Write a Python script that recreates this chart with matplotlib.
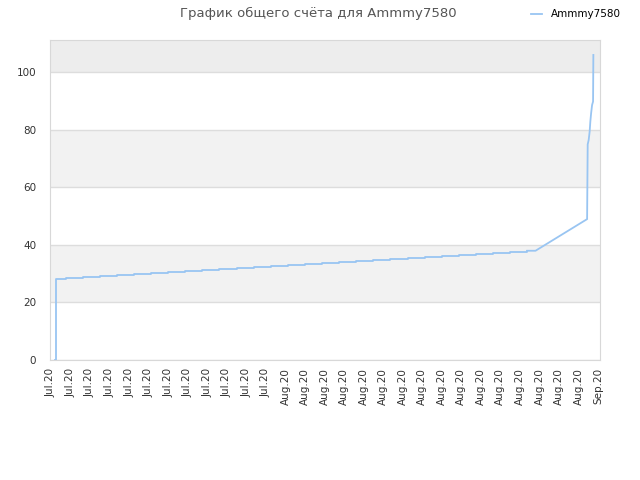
import matplotlib
matplotlib.use("Agg")
import matplotlib.pyplot as plt
import matplotlib.dates as mdates
import pandas as pd

# account balance (days counted from 2020-07-08)
start = pd.Timestamp("2020-07-08")
name = "Ammmy7580"

step_days = [0.42, 0.50, 1.50, 3.25, 5.00, 6.75, 8.50, 10.25, 12.00, 13.75, 15.50,
             17.25, 19.00, 20.75, 22.50, 24.25, 26.00, 27.75, 29.50, 31.25,
             33.00, 34.75, 36.50, 38.25, 40.00, 41.75, 43.50, 45.25, 47.00, 48.75]
step_vals = [0.0, 28.1, 28.5, 28.8, 29.2, 29.5, 29.9, 30.2, 30.6, 31.0, 31.3, 31.7,
             32.0, 32.4, 32.7, 33.1, 33.4, 33.8, 34.1, 34.5, 34.9, 35.2, 35.6,
             35.9, 36.3, 36.6, 37.0, 37.3, 37.7, 38.0]

tail_days = [49.60, 54.88, 54.94, 55.04, 55.14, 55.21, 55.29, 55.39, 55.49, 55.52]
tail_vals = [38.0, 49.0, 75.0, 76.5, 79.4, 82.9, 85.8, 88.7, 89.9, 106.1]

tick_dates = pd.date_range("2020-07-08", periods=29, freq="2D")

line_col = "#99c5f2"

fig = plt.figure(figsize=(6.4, 4.8), dpi=100)
ax = fig.add_axes([50 / 640, 120 / 480, 550 / 640, 320 / 480])

t_step = [start + pd.Timedelta(days=d) for d in step_days]
t_tail = [t_step[-1]] + [start + pd.Timedelta(days=d) for d in tail_days]
v_tail = [step_vals[-1]] + tail_vals

ax.plot(t_step, step_vals, drawstyle="steps-post", color=line_col, lw=1.3, label=name)
ax.plot(t_tail, v_tail, color=line_col, lw=1.3)

ymax = 111.3
ax.set_ylim(0, ymax)
ax.set_xlim(start - pd.Timedelta(days=0.1), start + pd.Timedelta(days=56.2))

# alternating bands
bands = [(20, 40, "#f2f2f2"), (60, 80, "#f2f2f2"), (100, ymax, "#ededed")]
for lo, hi, c in bands:
    ax.axhspan(lo, hi, color=c, zorder=0, lw=0)
ax.set_yticks([0, 20, 40, 60, 80, 100])
ax.grid(axis="y", color="#dddddd", lw=1)
ax.set_axisbelow(True)

ax.set_xticks(tick_dates)
ax.xaxis.set_major_formatter(mdates.DateFormatter("%b.%y"))
plt.setp(ax.get_xticklabels(), rotation=90)
ax.tick_params(axis="both", length=0, labelsize=7.5, colors="#333333")
ax.tick_params(axis="y", pad=10)
ax.tick_params(axis="x", pad=6)

for s in ax.spines.values():
    s.set_color("#d8d8d8")

fig.text(0.497, 0.972, "График общего счёта для " + name, ha="center", va="center",
         fontsize=9.5, color="#555555")
ax.legend(loc="center left", bbox_to_anchor=(522 / 640, 0.97),
          bbox_transform=fig.transFigure, frameon=False, fontsize=7.5,
          handlelength=1.0, handletextpad=0.9)

fig.savefig("out.png", dpi=100)
